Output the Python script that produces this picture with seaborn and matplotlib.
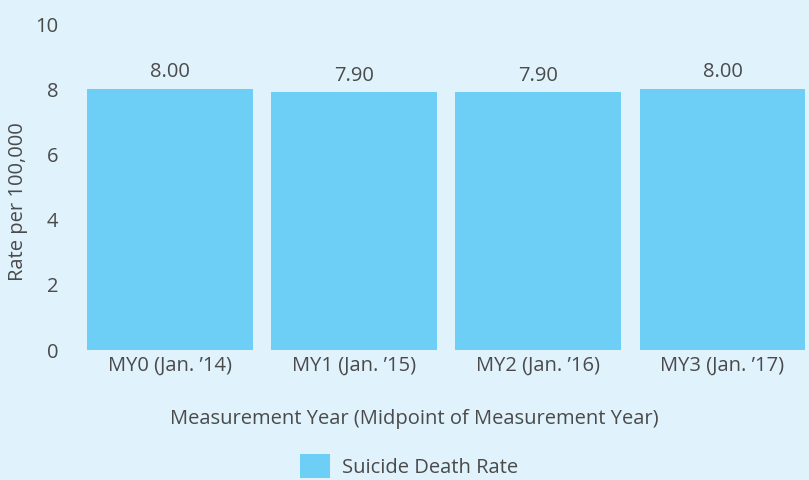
import matplotlib
matplotlib.use("Agg")
import matplotlib.pyplot as plt
import seaborn as sns
import pandas as pd
from matplotlib.patches import Patch

categories = ["MY0 (Jan. \u201914)", "MY1 (Jan. \u201915)", "MY2 (Jan. \u201916)", "MY3 (Jan. \u201917)"]
values = [8.00, 7.90, 7.90, 8.00]
value_labels = ["8.00", "7.90", "7.90", "8.00"]
series_name = "Suicide Death Rate"
y_ticks = [0, 2, 4, 6, 8, 10]

bg = "#e0f2fc"
bar_color = "#6dcff6"
text_color = "#4a4a4a"
fs = 14.5

sns.set_theme(style="white")
plt.rcParams["font.family"] = ["Open Sans", "DejaVu Sans"]

df = pd.DataFrame({"cat": categories, "val": values})

W, H = 809, 480
L, T, B = 78, 24, 350
fig = plt.figure(figsize=(8.09, 4.8), dpi=100, facecolor=bg)
ax = fig.add_axes([L / W, 1 - B / H, (W - L) / W, (B - T) / H])
ax.set_facecolor(bg)

sns.barplot(data=df, x="cat", y="val", color=bar_color, width=0.9, saturation=1,
            linewidth=0, edgecolor="none", ax=ax)

ax.set_ylim(0, 10)
ax.set_xlim(-0.5, 3.47)
ax.set_yticks(y_ticks)
ax.set_yticklabels([str(t) for t in y_ticks], fontsize=fs, color=text_color)
ax.tick_params(axis="y", length=0, pad=14)
ax.tick_params(axis="x", length=0, pad=4, labelsize=fs, labelcolor=text_color)
for s in ax.spines.values():
    s.set_visible(False)

for i, (v, lab) in enumerate(zip(values, value_labels)):
    ax.annotate(lab, (i, v), xytext=(0, 5), textcoords="offset points",
                ha="center", va="bottom", fontsize=fs, color=text_color)

ax.set_xlabel("")
ax.set_ylabel("")
fig.text(414 / W, 1 - 419 / H, "Measurement Year (Midpoint of Measurement Year)",
         ha="center", va="center", fontsize=fs, color=text_color)
fig.text(18 / W, 1 - 202 / H, "Rate per 100,000", rotation=90,
         ha="center", va="center", fontsize=fs, color=text_color)

handles = [Patch(facecolor=bar_color, edgecolor="none", label=series_name)]
fig.legend(handles=handles, loc="center", bbox_to_anchor=(409 / W, 1 - 466 / H),
           frameon=False, fontsize=fs, labelcolor=text_color,
           handlelength=1.5, handleheight=1.5, handletextpad=0.6)

fig.savefig("out.png", dpi=100, facecolor=bg)
